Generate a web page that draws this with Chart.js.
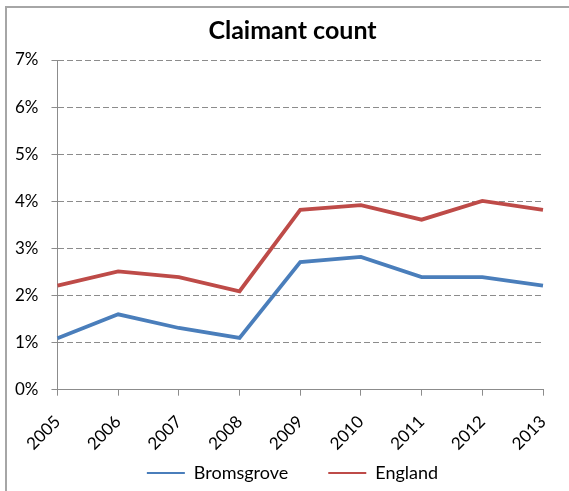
<!DOCTYPE html>
<html>
<head>
<meta charset="utf-8">
<script src="https://cdn.jsdelivr.net/npm/chart.js@4.4.1/dist/chart.umd.min.js"></script>
<style>
  html,body{margin:0;padding:0;background:#fff;overflow:hidden;}
  #frame{position:absolute;left:5px;top:6px;width:620px;height:560px;border:2px solid #a6a6a6;}
  #wrap{position:absolute;left:0;top:0;width:569px;height:491px;}
</style>
</head>
<body>
<div id="frame"></div>
<div id="wrap"><canvas id="chart"></canvas></div>
<script>
/* claimant count – Bromsgrove vs England */
const years=['2005','2006','2007','2008','2009','2010','2011','2012','2013'];
const bromsgrove=[1.09,1.60,1.31,1.10,2.71,2.82,2.39,2.39,2.21];
const england=[2.21,2.51,2.39,2.09,3.82,3.92,3.61,4.01,3.82];
const yTicks=[0,1,2,3,4,5,6,7];

const FONT="Lato, 'Open Sans', sans-serif";
const gridCol='#8c8c8c';

/* title/legend sit centred over the plot in the original, not the canvas */
const nudge={id:'nudge',afterLayout(c){
  const t=c.titleBlock,l=c.legend;
  t.left+=20;t.right+=20;
  l.left+=20;l.right+=20;l.top-=46;l.bottom-=46;
}};

const ctx=document.getElementById('chart').getContext('2d');
new Chart(ctx,{type:'line',
  data:{labels:years,datasets:[
    {label:'Bromsgrove',data:bromsgrove,borderColor:'#4a7ebb',backgroundColor:'#4a7ebb',borderWidth:3.8,pointRadius:0,tension:0},
    {label:'England',data:england,borderColor:'#be4b48',backgroundColor:'#be4b48',borderWidth:3.8,pointRadius:0,tension:0}]},
  options:{responsive:true,maintainAspectRatio:false,animation:false,
    layout:{padding:{left:2,right:26,top:12,bottom:-47}},
    plugins:{
      title:{display:true,text:'Claimant count',color:'#000',font:{family:FONT,size:25,weight:'bold'},padding:{top:4,bottom:14}},
      legend:{position:'bottom',labels:{color:'#000',font:{family:FONT,size:18},boxWidth:38,boxHeight:2,padding:40,
        generateLabels:c=>Chart.defaults.plugins.legend.labels.generateLabels(c).map(l=>({...l,lineWidth:0}))}},
      tooltip:{enabled:false}},
    scales:{
      x:{offset:false,grid:{drawOnChartArea:false,drawTicks:true,tickLength:6,color:gridCol},
        border:{color:gridCol,width:1},
        ticks:{color:'#000',font:{family:FONT,size:17},minRotation:45,maxRotation:45,padding:16},
        afterFit:s=>{s.paddingRight=0;}},
      y:{min:0,max:7,afterBuildTicks:a=>{a.ticks=yTicks.map(v=>({value:v}));},
        grid:{color:gridCol,tickLength:6,lineWidth:1,tickBorderDash:[6,3]},
        border:{color:gridCol,width:1,dash:[6,3]},
        ticks:{color:'#000',font:{family:FONT,size:17},padding:13,callback:v=>v+'%'}}}},
  plugins:[nudge]
});
</script>
</body>
</html>
